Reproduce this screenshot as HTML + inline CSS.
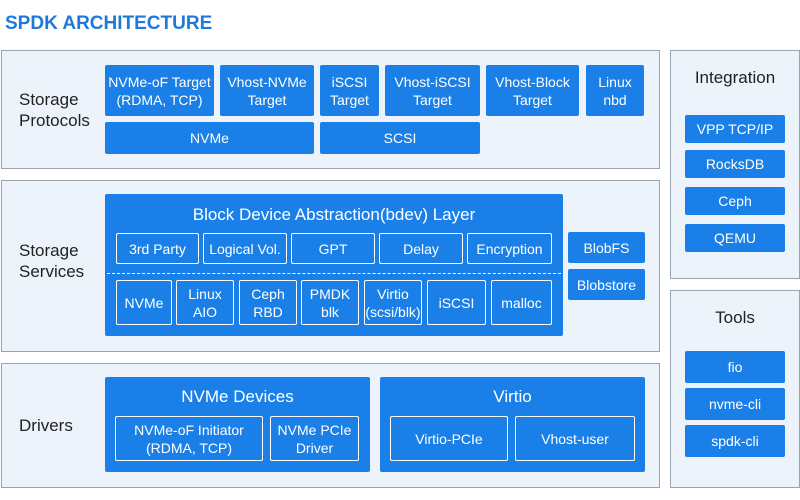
<!DOCTYPE html>
<html><head><meta charset="utf-8"><style>
*{margin:0;padding:0;box-sizing:border-box}
body{width:800px;height:500px;background:#fff;position:relative;overflow:hidden;font-family:"Liberation Sans",sans-serif}
.a{position:absolute}
.p{position:absolute;background:#edf3fb;border:1px solid #9aa3ae}
.b{position:absolute;background:#1a80e8;color:#fff;font-size:14px;display:flex;align-items:center;justify-content:center;text-align:center;line-height:18px;border-radius:2px}
.o{position:absolute;border:1px solid #fff;color:#fff;font-size:14px;display:flex;align-items:center;justify-content:center;text-align:center;line-height:18px;border-radius:2px}
.l{position:absolute;color:#222;font-size:17px;line-height:21px}
.t{position:absolute;color:#fff;font-size:17px;text-align:center}
</style></head><body>
<div class="a" style="left:5px;top:13px;font-size:19px;color:#1e7ad8;font-weight:bold">SPDK ARCHITECTURE</div>

<div class="p" style="left:1px;top:50px;width:659px;height:119px"></div>
<div class="p" style="left:1px;top:180px;width:659px;height:172px"></div>
<div class="p" style="left:1px;top:363px;width:659px;height:125px"></div>
<div class="p" style="left:670px;top:50px;width:130px;height:229px"></div>
<div class="p" style="left:670px;top:290px;width:130px;height:198px"></div>

<div class="l" style="left:19px;top:89px">Storage<br>Protocols</div>
<div class="l" style="left:19px;top:240px">Storage<br>Services</div>
<div class="l" style="left:19px;top:415px">Drivers</div>
<div class="a" style="left:670px;top:68px;width:130px;text-align:center;font-size:17px;color:#222">Integration</div>
<div class="a" style="left:670px;top:308px;width:130px;text-align:center;font-size:17px;color:#222">Tools</div>

<div class="b" style="left:105px;top:65px;width:109px;height:51px">NVMe-oF Target<br>(RDMA, TCP)</div>
<div class="b" style="left:220px;top:65px;width:94px;height:51px">Vhost-NVMe<br>Target</div>
<div class="b" style="left:320px;top:65px;width:59px;height:51px">iSCSI<br>Target</div>
<div class="b" style="left:385px;top:65px;width:95px;height:51px">Vhost-iSCSI<br>Target</div>
<div class="b" style="left:486px;top:65px;width:93px;height:51px">Vhost-Block<br>Target</div>
<div class="b" style="left:586px;top:65px;width:58px;height:51px">Linux<br>nbd</div>
<div class="b" style="left:105px;top:122px;width:209px;height:32px">NVMe</div>
<div class="b" style="left:320px;top:122px;width:160px;height:32px">SCSI</div>

<div class="b" style="left:105px;top:194px;width:458px;height:142px;display:block"></div>
<div class="t" style="left:105px;top:205px;width:458px">Block Device Abstraction(bdev) Layer</div>
<div class="o" style="left:116px;top:233px;width:83px;height:31px">3rd Party</div>
<div class="o" style="left:203px;top:233px;width:84px;height:31px">Logical Vol.</div>
<div class="o" style="left:291px;top:233px;width:84px;height:31px">GPT</div>
<div class="o" style="left:379px;top:233px;width:84px;height:31px">Delay</div>
<div class="o" style="left:467px;top:233px;width:85px;height:31px">Encryption</div>
<div class="a" style="left:107px;top:273px;width:454px;border-top:1px dashed #fff"></div>
<div class="o" style="left:116px;top:280px;width:56px;height:45px">NVMe</div>
<div class="o" style="left:176px;top:280px;width:58px;height:45px">Linux<br>AIO</div>
<div class="o" style="left:239px;top:280px;width:58px;height:45px">Ceph<br>RBD</div>
<div class="o" style="left:301px;top:280px;width:58px;height:45px">PMDK<br>blk</div>
<div class="o" style="left:364px;top:280px;width:58px;height:45px">Virtio<br>(scsi/blk)</div>
<div class="o" style="left:427px;top:280px;width:59px;height:45px">iSCSI</div>
<div class="o" style="left:491px;top:280px;width:61px;height:45px">malloc</div>
<div class="b" style="left:568px;top:232px;width:77px;height:31px">BlobFS</div>
<div class="b" style="left:568px;top:269px;width:77px;height:31px">Blobstore</div>

<div class="b" style="left:105px;top:377px;width:265px;height:95px;display:block"></div>
<div class="t" style="left:105px;top:387px;width:265px">NVMe Devices</div>
<div class="o" style="left:115px;top:416px;width:148px;height:45px">NVMe-oF Initiator<br>(RDMA, TCP)</div>
<div class="o" style="left:270px;top:416px;width:89px;height:45px">NVMe PCIe<br>Driver</div>
<div class="b" style="left:380px;top:377px;width:265px;height:95px;display:block"></div>
<div class="t" style="left:380px;top:387px;width:265px">Virtio</div>
<div class="o" style="left:390px;top:416px;width:118px;height:45px">Virtio-PCIe</div>
<div class="o" style="left:515px;top:416px;width:120px;height:45px">Vhost-user</div>

<div class="b" style="left:685px;top:115px;width:100px;height:28px">VPP TCP/IP</div>
<div class="b" style="left:685px;top:150px;width:100px;height:28px">RocksDB</div>
<div class="b" style="left:685px;top:187px;width:100px;height:28px">Ceph</div>
<div class="b" style="left:685px;top:224px;width:100px;height:28px">QEMU</div>
<div class="b" style="left:685px;top:351px;width:100px;height:32px">fio</div>
<div class="b" style="left:685px;top:388px;width:100px;height:32px">nvme-cli</div>
<div class="b" style="left:685px;top:425px;width:100px;height:32px">spdk-cli</div>
</body></html>
